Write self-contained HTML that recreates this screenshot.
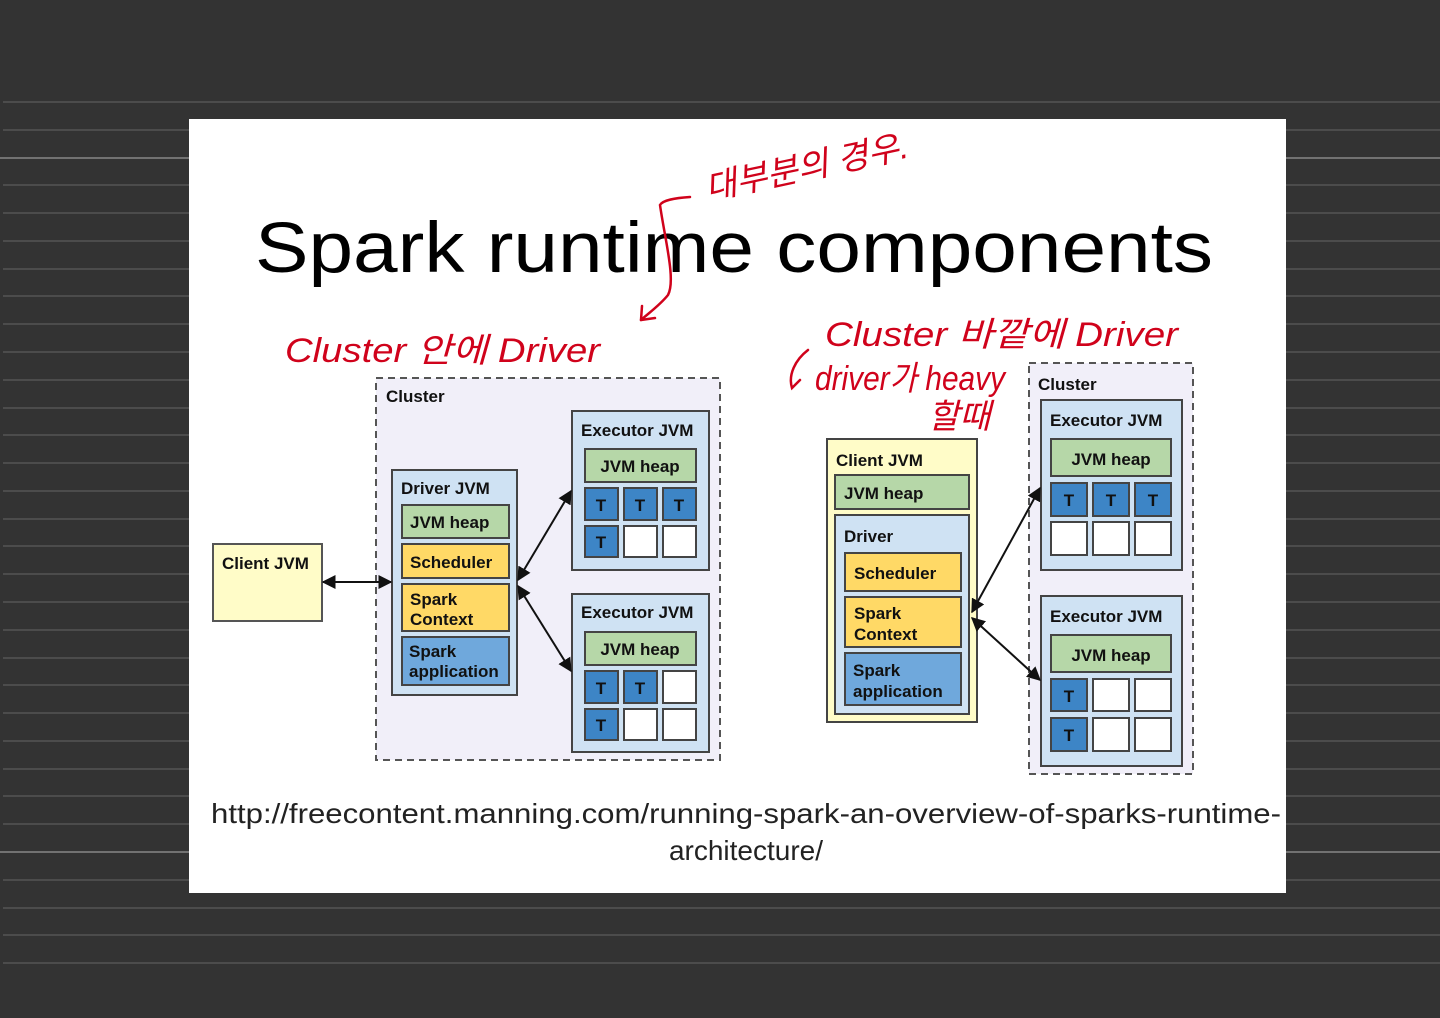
<!DOCTYPE html>
<html><head><meta charset="utf-8"><style>
html,body{margin:0;padding:0;background:#333;}
svg{display:block}
text{font-family:"Liberation Sans","Noto Sans CJK KR",sans-serif}
.b{font-weight:bold;font-size:17px;fill:#111}
.h{font-family:"Liberation Sans","Noto Sans CJK KR",sans-serif;fill:#d0021b;font-size:34px;font-style:italic}
</style></head><body>
<svg width="1440" height="1018" viewBox="0 0 1440 1018" xmlns="http://www.w3.org/2000/svg">
<rect width="1440" height="1018" fill="#333"/>
<g stroke="#555" stroke-width="1.5">
<line x1="3" x2="1440" y1="102" y2="102"/><line x1="3" x2="1440" y1="130" y2="130"/>
<line x1="0" x2="1440" y1="158" y2="158" stroke="#888"/>
<line x1="3" x2="1440" y1="185" y2="185"/><line x1="3" x2="1440" y1="213" y2="213"/>
<line x1="3" x2="1440" y1="241" y2="241"/><line x1="3" x2="1440" y1="269" y2="269"/>
<line x1="3" x2="1440" y1="296" y2="296"/><line x1="3" x2="1440" y1="324" y2="324"/>
<line x1="3" x2="1440" y1="352" y2="352"/><line x1="3" x2="1440" y1="380" y2="380"/>
<line x1="3" x2="1440" y1="408" y2="408"/><line x1="3" x2="1440" y1="435" y2="435"/>
<line x1="3" x2="1440" y1="463" y2="463"/><line x1="3" x2="1440" y1="491" y2="491"/>
<line x1="3" x2="1440" y1="519" y2="519"/><line x1="3" x2="1440" y1="546" y2="546"/>
<line x1="3" x2="1440" y1="574" y2="574"/><line x1="3" x2="1440" y1="602" y2="602"/>
<line x1="3" x2="1440" y1="630" y2="630"/><line x1="3" x2="1440" y1="658" y2="658"/>
<line x1="3" x2="1440" y1="685" y2="685"/><line x1="3" x2="1440" y1="713" y2="713"/>
<line x1="3" x2="1440" y1="741" y2="741"/><line x1="3" x2="1440" y1="769" y2="769"/>
<line x1="3" x2="1440" y1="796" y2="796"/><line x1="3" x2="1440" y1="824" y2="824"/>
<line x1="0" x2="1440" y1="852" y2="852" stroke="#888"/>
<line x1="3" x2="1440" y1="880" y2="880"/><line x1="3" x2="1440" y1="908" y2="908"/>
<line x1="3" x2="1440" y1="935" y2="935"/><line x1="3" x2="1440" y1="963" y2="963"/>
</g>
<rect x="189" y="119" width="1097" height="774" fill="#fff"/>
<text x="734" y="272" font-size="71" text-anchor="middle" fill="#000" textLength="958" lengthAdjust="spacingAndGlyphs">Spark runtime components</text>

<!-- LEFT -->
<rect x="376" y="378" width="344" height="382" fill="#f1eff9" stroke="#555" stroke-width="2" stroke-dasharray="7,5"/>
<text x="386" y="402" class="b">Cluster</text>
<rect x="213" y="544" width="109" height="77" fill="#fffcc8" stroke="#555" stroke-width="2"/>
<text x="222" y="569" class="b">Client JVM</text>
<rect x="392" y="470" width="125" height="225" fill="#cfe2f3" stroke="#444" stroke-width="2"/>
<text x="401" y="494" class="b">Driver JVM</text>
<rect x="402" y="505" width="107" height="33" fill="#b6d7a8" stroke="#444" stroke-width="2"/>
<text x="410" y="528" class="b">JVM heap</text>
<rect x="402" y="544" width="107" height="34" fill="#ffd966" stroke="#444" stroke-width="2"/>
<text x="410" y="568" class="b">Scheduler</text>
<rect x="402" y="584" width="107" height="47" fill="#ffd966" stroke="#444" stroke-width="2"/>
<text x="410" y="605" class="b">Spark</text><text x="410" y="625" class="b">Context</text>
<rect x="402" y="637" width="107" height="48" fill="#6fa8dc" stroke="#444" stroke-width="2"/>
<text x="409" y="657" class="b">Spark</text><text x="409" y="677" class="b">application</text>

<g stroke="#444" stroke-width="2">
<rect x="572" y="411" width="137" height="159" fill="#cfe2f3"/>
<rect x="585" y="449" width="111" height="33" fill="#b6d7a8"/>
<rect x="585" y="488" width="33" height="32" fill="#3d85c6"/><rect x="624" y="488" width="33" height="32" fill="#3d85c6"/><rect x="663" y="488" width="33" height="32" fill="#3d85c6"/>
<rect x="585" y="526" width="33" height="31" fill="#3d85c6"/><rect x="624" y="526" width="33" height="31" fill="#fff"/><rect x="663" y="526" width="33" height="31" fill="#fff"/>
<rect x="572" y="594" width="137" height="158" fill="#cfe2f3"/>
<rect x="585" y="632" width="111" height="33" fill="#b6d7a8"/>
<rect x="585" y="671" width="33" height="32" fill="#3d85c6"/><rect x="624" y="671" width="33" height="32" fill="#3d85c6"/><rect x="663" y="671" width="33" height="32" fill="#fff"/>
<rect x="585" y="709" width="33" height="31" fill="#3d85c6"/><rect x="624" y="709" width="33" height="31" fill="#fff"/><rect x="663" y="709" width="33" height="31" fill="#fff"/>
</g>
<text x="581" y="436" class="b">Executor JVM</text>
<text x="640" y="472" class="b" text-anchor="middle">JVM heap</text>
<text x="581" y="618" class="b">Executor JVM</text>
<text x="640" y="655" class="b" text-anchor="middle">JVM heap</text>
<text x="601" y="511" class="b" text-anchor="middle">T</text><text x="640" y="511" class="b" text-anchor="middle">T</text><text x="679" y="511" class="b" text-anchor="middle">T</text>
<text x="601" y="548" class="b" text-anchor="middle">T</text>
<text x="601" y="694" class="b" text-anchor="middle">T</text><text x="640" y="694" class="b" text-anchor="middle">T</text>
<text x="601" y="731" class="b" text-anchor="middle">T</text>

<!-- RIGHT -->
<rect x="1029" y="363" width="164" height="411" fill="#f1eff9" stroke="#555" stroke-width="2" stroke-dasharray="7,5"/>
<text x="1038" y="390" class="b">Cluster</text>
<g stroke="#444" stroke-width="2">
<rect x="827" y="439" width="150" height="283" fill="#fffcc8"/>
<rect x="835" y="475" width="134" height="34" fill="#b6d7a8"/>
<rect x="835" y="515" width="134" height="199" fill="#cfe2f3"/>
<rect x="845" y="553" width="116" height="38" fill="#ffd966"/>
<rect x="845" y="597" width="116" height="50" fill="#ffd966"/>
<rect x="845" y="653" width="116" height="52" fill="#6fa8dc"/>
<rect x="1041" y="400" width="141" height="170" fill="#cfe2f3"/>
<rect x="1051" y="439" width="120" height="37" fill="#b6d7a8"/>
<rect x="1051" y="483" width="36" height="33" fill="#3d85c6"/><rect x="1093" y="483" width="36" height="33" fill="#3d85c6"/><rect x="1135" y="483" width="36" height="33" fill="#3d85c6"/>
<rect x="1051" y="522" width="36" height="33" fill="#fff"/><rect x="1093" y="522" width="36" height="33" fill="#fff"/><rect x="1135" y="522" width="36" height="33" fill="#fff"/>
<rect x="1041" y="596" width="141" height="170" fill="#cfe2f3"/>
<rect x="1051" y="635" width="120" height="37" fill="#b6d7a8"/>
<rect x="1051" y="679" width="36" height="32" fill="#3d85c6"/><rect x="1093" y="679" width="36" height="32" fill="#fff"/><rect x="1135" y="679" width="36" height="32" fill="#fff"/>
<rect x="1051" y="718" width="36" height="33" fill="#3d85c6"/><rect x="1093" y="718" width="36" height="33" fill="#fff"/><rect x="1135" y="718" width="36" height="33" fill="#fff"/>
</g>
<text x="836" y="466" class="b" font-size="18">Client JVM</text>
<text x="844" y="499" class="b">JVM heap</text>
<text x="844" y="542" class="b">Driver</text>
<text x="854" y="579" class="b">Scheduler</text>
<text x="854" y="619" class="b">Spark</text><text x="854" y="640" class="b">Context</text>
<text x="853" y="676" class="b">Spark</text><text x="853" y="697" class="b">application</text>
<text x="1050" y="426" class="b" font-size="18">Executor JVM</text>
<text x="1111" y="465" class="b" text-anchor="middle">JVM heap</text>
<text x="1050" y="622" class="b" font-size="18">Executor JVM</text>
<text x="1111" y="661" class="b" text-anchor="middle">JVM heap</text>
<text x="1069" y="506" class="b" text-anchor="middle">T</text><text x="1111" y="506" class="b" text-anchor="middle">T</text><text x="1153" y="506" class="b" text-anchor="middle">T</text>
<text x="1069" y="702" class="b" text-anchor="middle">T</text>
<text x="1069" y="741" class="b" text-anchor="middle">T</text>

<!-- connectors on top -->
<defs><marker id="a" viewBox="0 0 10 10" refX="9" refY="5" markerWidth="7" markerHeight="7" orient="auto-start-reverse"><path d="M0,0 L10,5 L0,10 z" fill="#111"/></marker></defs>
<g stroke="#111" stroke-width="2" marker-start="url(#a)" marker-end="url(#a)">
<line x1="323" y1="582" x2="391" y2="582"/>
<line x1="518" y1="580" x2="571" y2="491"/>
<line x1="518" y1="586" x2="571" y2="671"/>
<line x1="972" y1="612" x2="1040" y2="488"/>
<line x1="972" y1="618" x2="1040" y2="680"/>
</g>

<!-- URL -->
<text x="746" y="823" font-size="28" text-anchor="middle" fill="#222" textLength="1070" lengthAdjust="spacingAndGlyphs">http://freecontent.manning.com/running-spark-an-overview-of-sparks-runtime-</text>
<text x="746" y="860" font-size="28" text-anchor="middle" fill="#222">architecture/</text>

<!-- handwriting -->
<text class="h" x="285" y="362" textLength="315" lengthAdjust="spacingAndGlyphs">Cluster 안에 Driver</text>
<text class="h" x="825" y="346" textLength="353" lengthAdjust="spacingAndGlyphs">Cluster 바깥에 Driver</text>
<text class="h" x="815" y="390" font-size="28" textLength="190" lengthAdjust="spacingAndGlyphs">driver가 heavy</text>
<text class="h" x="928" y="428" font-size="30">할때</text>
<text class="h" x="708" y="200" font-size="30" transform="rotate(-12 708 200)">대부분의 경우.</text>
<g fill="none" stroke="#d0021b" stroke-width="2.5" stroke-linecap="round">
<path d="M690,197 C675,198 663,200 660,205 C665,240 676,280 668,295 C660,305 650,312 641,320"/>
<path d="M641,320 L642,306 M641,320 L655,318"/>
<path d="M808,350 C795,360 788,375 792,388 L800,380"/>
</g>
</svg>
</body></html>
